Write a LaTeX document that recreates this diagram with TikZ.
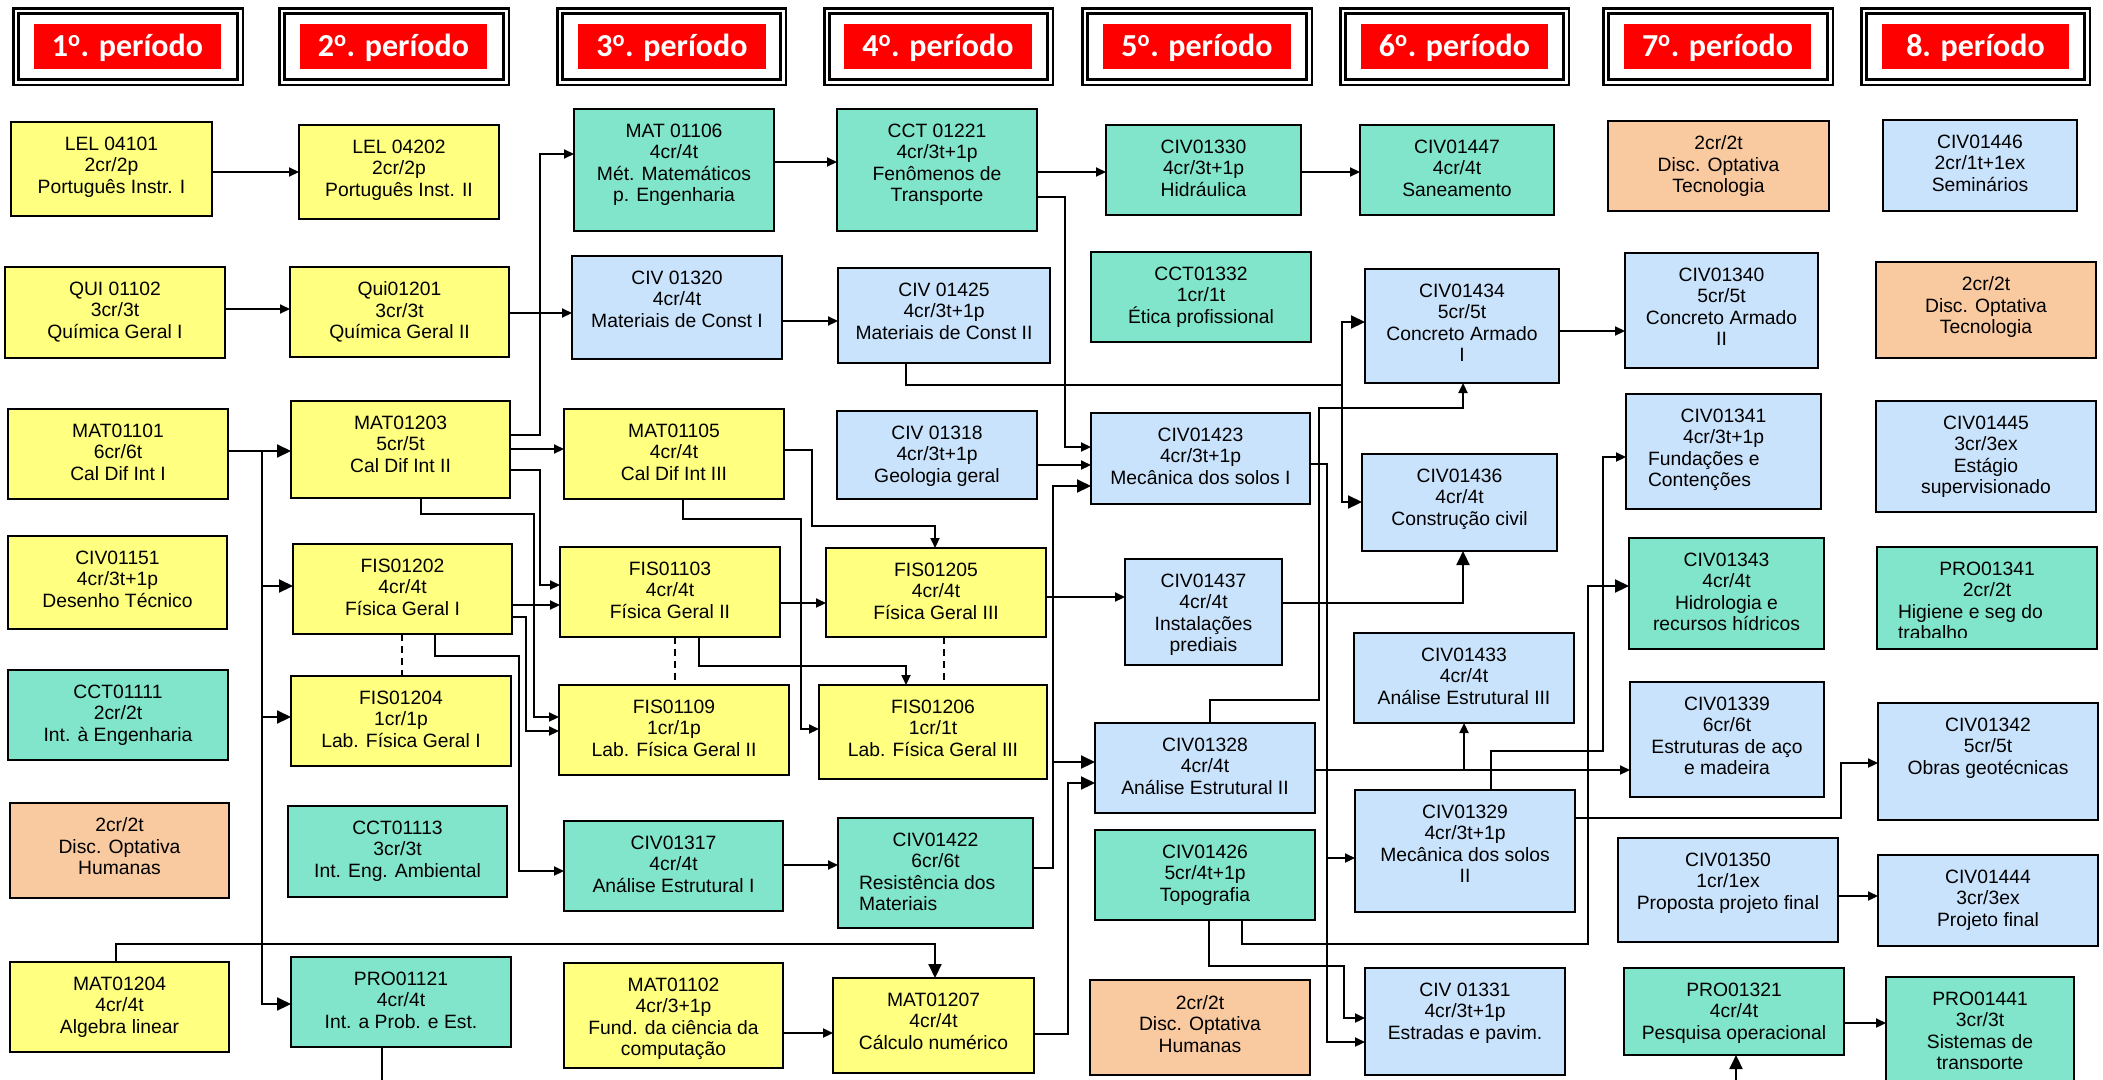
\documentclass[tikz,border=0pt]{standalone}
\usepackage{fontspec}
\setmainfont{Liberation Sans}
\newfontfamily\hdfont{Carlito}
\usetikzlibrary{arrows.meta}
\definecolor{cyel}{HTML}{FFFF80}
\definecolor{cteal}{HTML}{80E5CA}
\definecolor{cblue}{HTML}{CAE3FC}
\definecolor{corg}{HTML}{F9C9A0}
\definecolor{cred}{HTML}{FF0000}
\newcommand\lft[2]{\makebox[#1pt][l]{#2}}
\newcommand\crs[7]{%
  \node[#6, minimum width={#4-#2}, minimum height={#5-#3}] (#1) at ({(#2+#4)/2},{(#3+#5)/2}) {};
  \node[txt] (#1t) at ({(#2+#4)/2},{#3+15}) {#7};}
\newcommand\crsc[8]{%
  \node[#6, minimum width={#4-#2}, minimum height={#5-#3}] (#1) at ({(#2+#4)/2},{(#3+#5)/2}) {};
  \begin{scope}\clip (#2,#3) rectangle (#4,#8);
  \node[txt] (#1t) at ({(#2+#4)/2},{#3+15}) {#7};
  \end{scope}}
\newcommand\hdr[6]{%
  \node[hdframe, minimum width={#3-#2-7.5}, minimum height=71.5] (#1f) at ({(#2+#3)/2},46.5) {};
  \node[redbox, minimum width={#5-#4}, minimum height=45] (#1) at ({(#4+#5)/2},46.5) {};
  \node[hdtxt] (#1t) at ({(#4+#5)/2},56) {#6};}
\tikzset{
  crsbox/.style={draw=black, line width=1.8pt, rectangle, inner sep=0pt, outer sep=0pt},
  ysty/.style={crsbox, fill=cyel},
  tsty/.style={crsbox, fill=cteal},
  bsty/.style={crsbox, fill=cblue},
  osty/.style={crsbox, fill=corg},
  txt/.style={font=\fontsize{19.3}{21.5}\selectfont, align=center, inner sep=0pt, outer sep=0pt, anchor=north},
  conn/.style={line width=2.1pt, line join=miter},
  sarr/.style={conn, -{Triangle[length=10pt,width=9pt]}},
  barr/.style={conn, -{Triangle[length=14pt,width=13pt]}},
  dsh/.style={line width=2.1pt, dash pattern=on 7pt off 5pt},
  hdframe/.style={draw=black, line width=2.7pt, double=white, double distance=2.5pt, inner sep=0pt, rectangle},
  redbox/.style={fill=cred, inner sep=0pt, rectangle},
  hdtxt/.style={font=\hdfont\bfseries\fontsize{32}{36}\selectfont, text=white, anchor=base, inner sep=0pt},
}
\begin{document}
\begin{tikzpicture}[x=1pt,y=-1pt]
\useasboundingbox (0,0) rectangle (2103,1079);
\fill[white] (0,0) rectangle (2103,1079);
% headers
\hdr{h1}{12}{244}{34}{221}{1\textsuperscript{o}. período}
\hdr{h2}{278}{510}{300}{487}{2\textsuperscript{o}. período}
\hdr{h3}{556}{787}{578}{766}{3\textsuperscript{o}. período}
\hdr{h4}{823}{1054}{844}{1032}{4\textsuperscript{o}. período}
\hdr{h5}{1081}{1313}{1103}{1291}{5\textsuperscript{o}. período}
\hdr{h6}{1339}{1570}{1361}{1548}{6\textsuperscript{o}. período}
\hdr{h7}{1602}{1834}{1624}{1811}{7\textsuperscript{o}. período}
\hdr{h8}{1860}{2091}{1882}{2069}{8. período}
% column 1
\crs{lel1}{11}{122}{212}{216}{ysty}{LEL 04101\\2cr/2p\\Português Instr. I}
\crs{qui1}{5}{267}{225}{358}{ysty}{QUI 01102\\3cr/3t\\Química Geral I}
\crs{mat1101}{8}{409}{228}{499}{ysty}{MAT01101\\6cr/6t\\Cal Dif Int I}
\crs{civ1151}{8}{536}{227}{629}{ysty}{CIV01151\\4cr/3t+1p\\Desenho Técnico}
\crs{cct1111}{8}{670}{228}{760}{tsty}{CCT01111\\2cr/2t\\Int. à Engenharia}
\crs{opth1}{10}{803}{229}{898}{osty}{2cr/2t\\Disc. Optativa\\Humanas}
\crs{mat1204}{10}{962}{229}{1052}{ysty}{MAT01204\\4cr/4t\\Algebra linear}
% column 2
\crs{lel2}{299}{125}{499}{219}{ysty}{LEL 04202\\2cr/2p\\Português Inst. II}
\crs{qui2}{290}{267}{509}{357}{ysty}{Qui01201\\3cr/3t\\Química Geral II}
\crs{mat1203}{291}{401}{510}{498}{ysty}{MAT01203\\5cr/5t\\Cal Dif Int II}
\crs{fis1202}{293}{544}{512}{634}{ysty}{FIS01202\\4cr/4t\\Física Geral I}
\crs{fis1204}{291}{676}{511}{766}{ysty}{FIS01204\\1cr/1p\\Lab. Física Geral I}
\crs{cct1113}{288}{806}{507}{897}{tsty}{CCT01113\\3cr/3t\\Int. Eng. Ambiental}
\crs{pro1121}{291}{957}{511}{1047}{tsty}{PRO01121\\4cr/4t\\Int. a Prob. e Est.}
% column 3
\crs{mat1106}{574}{109}{774}{231}{tsty}{MAT 01106\\4cr/4t\\Mét. Matemáticos\\p. Engenharia}
\crs{civ1320}{572}{256}{782}{359}{bsty}{CIV 01320\\4cr/4t\\Materiais de Const I}
\crs{mat1105}{564}{409}{784}{499}{ysty}{MAT01105\\4cr/4t\\Cal Dif Int III}
\crs{fis1103}{560}{547}{780}{637}{ysty}{FIS01103\\4cr/4t\\Física Geral II}
\crs{fis1109}{559}{685}{789}{775}{ysty}{FIS01109\\1cr/1p\\Lab. Física Geral II}
\crs{civ1317}{564}{821}{783}{911}{tsty}{CIV01317\\4cr/4t\\Análise Estrutural I}
\crs{mat1102}{564}{963}{783}{1068}{ysty}{MAT01102\\4cr/3+1p\\Fund. da ciência da\\computação}
% column 4
\crs{cct1221}{837}{109}{1037}{231}{tsty}{CCT 01221\\4cr/3t+1p\\Fenômenos de\\Transporte}
\crs{civ1425}{838}{268}{1050}{363}{bsty}{CIV 01425\\4cr/3t+1p\\Materiais de Const II}
\crs{civ1318}{837}{411}{1037}{499}{bsty}{CIV 01318\\4cr/3t+1p\\Geologia geral}
\crs{fis1205}{826}{548}{1046}{637}{ysty}{FIS01205\\4cr/4t\\Física Geral III}
\crs{fis1206}{819}{685}{1047}{779}{ysty}{FIS01206\\1cr/1t\\Lab. Física Geral III}
\crs{civ1422}{838}{818}{1033}{928}{tsty}{CIV01422\\6cr/6t\\\lft{153}{Resistência dos}\\\lft{153}{Materiais}}
\crs{mat1207}{833}{978}{1034}{1073}{ysty}{MAT01207\\4cr/4t\\Cálculo numérico}
% column 5
\crs{civ1330}{1106}{125}{1301}{215}{tsty}{CIV01330\\4cr/3t+1p\\Hidráulica}
\crs{cct1332}{1091}{252}{1311}{342}{tsty}{CCT01332\\1cr/1t\\Ética profissional}
\crs{civ1423}{1091}{413}{1310}{504}{bsty}{CIV01423\\4cr/3t+1p\\Mecânica dos solos I}
\crs{civ1437}{1125}{559}{1282}{665}{bsty}{CIV01437\\4cr/4t\\Instalações\\prediais}
\crs{civ1328}{1095}{723}{1315}{813}{bsty}{CIV01328\\4cr/4t\\Análise Estrutural II}
\crs{civ1426}{1095}{830}{1315}{920}{tsty}{CIV01426\\5cr/4t+1p\\Topografia}
\crs{opth5}{1090}{980}{1310}{1075}{osty}{2cr/2t\\Disc. Optativa\\Humanas}
% column 6
\crs{civ1447}{1360}{125}{1554}{215}{tsty}{CIV01447\\4cr/4t\\Saneamento}
\crs{civ1434}{1365}{269}{1559}{383}{bsty}{CIV01434\\5cr/5t\\Concreto Armado\\I}
\crs{civ1436}{1362}{454}{1557}{551}{bsty}{CIV01436\\4cr/4t\\Construção civil}
\crs{civ1433}{1354}{633}{1574}{723}{bsty}{CIV01433\\4cr/4t\\Análise Estrutural III}
\crs{civ1329}{1355}{790}{1575}{912}{bsty}{CIV01329\\4cr/3t+1p\\Mecânica dos solos\\II}
\crs{civ1331}{1365}{968}{1565}{1075}{bsty}{CIV 01331\\4cr/3t+1p\\Estradas e pavim.}
% column 7
\crs{optt7}{1608}{121}{1829}{211}{osty}{2cr/2t\\Disc. Optativa\\Tecnologia}
\crs{civ1340}{1625}{253}{1818}{368}{bsty}{CIV01340\\5cr/5t\\Concreto Armado\\II}
\crs{civ1341}{1626}{394}{1821}{509}{bsty}{CIV01341\\4cr/3t+1p\\\lft{151}{Fundações e}\\\lft{151}{Contenções}}
\crs{civ1343}{1629}{538}{1824}{649}{tsty}{CIV01343\\4cr/4t\\Hidrologia e\\recursos hídricos}
\crs{civ1339}{1630}{682}{1824}{797}{bsty}{CIV01339\\6cr/6t\\Estruturas de aço\\e madeira}
\crs{civ1350}{1618}{838}{1838}{942}{bsty}{CIV01350\\1cr/1ex\\Proposta projeto final}
\crs{pro1321}{1624}{968}{1844}{1055}{tsty}{PRO01321\\4cr/4t\\Pesquisa operacional}
% column 8
\crs{civ1446}{1883}{120}{2077}{211}{bsty}{CIV01446\\2cr/1t+1ex\\Seminários}
\crs{optt8}{1876}{262}{2096}{358}{osty}{2cr/2t\\Disc. Optativa\\Tecnologia}
\crs{civ1445}{1876}{401}{2096}{512}{bsty}{CIV01445\\3cr/3ex\\Estágio\\supervisionado}
\crsc{pro1341}{1877}{547}{2097}{649}{tsty}{PRO01341\\2cr/2t\\\lft{178}{Higiene e seg do}\\\lft{178}{trabalho}}{637}
\crs{civ1342}{1878}{703}{2098}{820}{bsty}{CIV01342\\5cr/5t\\Obras geotécnicas}
\crs{civ1444}{1878}{855}{2098}{946}{bsty}{CIV01444\\3cr/3ex\\Projeto final}
\crsc{pro1441}{1886}{977}{2074}{1095}{tsty}{PRO01441\\3cr/3t\\Sistemas de\\transporte}{1068}
% connectors
\draw[sarr] (lel1.east |- 0,172) -- (lel2.west |- 0,172);
\draw[sarr] (qui1.east |- 0,309) -- (qui2.west |- 0,309);
\draw[sarr] (qui2.east |- 0,313) -- (civ1320.west |- 0,313);
\draw[sarr] (mat1203.east |- 0,435) -- (540,435) -- (540,154) -- (mat1106.west |- 0,154);
\draw[sarr] (mat1203.east |- 0,449) -- (mat1105.west |- 0,449);
\draw[sarr] (mat1203.east |- 0,470) -- (540,470) -- (540,585) -- (fis1103.west |- 0,585);
\draw[sarr] (mat1203.south -| 421,0) -- (421,514) -- (534,514) -- (534,717) -- (fis1109.west |- 0,717);
\draw[barr] (mat1101.east |- 0,451) -- (mat1203.west |- 0,451);
\draw[barr] (mat1101.east |- 0,451) -- (262,451) -- (262,586) -- (fis1202.west |- 0,586);
\draw[barr] (mat1101.east |- 0,451) -- (262,451) -- (262,717) -- (fis1204.west |- 0,717);
\draw[barr] (mat1101.east |- 0,451) -- (262,451) -- (262,1004) -- (pro1121.west |- 0,1004);
\draw[sarr] (fis1202.east |- 0,605) -- (fis1103.west |- 0,605);
\draw[sarr] (fis1202.east |- 0,617) -- (526,617) -- (526,731) -- (fis1109.west |- 0,731);
\draw[sarr] (fis1202.south -| 435,0) -- (435,656) -- (519,656) -- (519,871) -- (civ1317.west |- 0,871);
\draw[dsh] (fis1202.south -| 402,0) -- (fis1204.north -| 402,0);
\draw[sarr] (mat1106.east |- 0,162) -- (cct1221.west |- 0,162);
\draw[sarr] (civ1320.east |- 0,321) -- (civ1425.west |- 0,321);
\draw[sarr] (mat1105.east |- 0,450) -- (812,450) -- (812,526) -- (935,526) -- (fis1205.north -| 935,0);
\draw[sarr] (mat1105.south -| 683,0) -- (683,519) -- (801,519) -- (801,729) -- (fis1206.west |- 0,729);
\draw[sarr] (fis1103.east |- 0,603) -- (fis1205.west |- 0,603);
\draw[dsh] (fis1103.south -| 675,0) -- (fis1109.north -| 675,0);
\draw[sarr] (fis1103.south -| 699,0) -- (699,666) -- (906,666) -- (fis1206.north -| 906,0);
\draw[dsh] (fis1205.south -| 944,0) -- (fis1206.north -| 944,0);
\draw[sarr] (civ1317.east |- 0,865) -- (civ1422.west |- 0,865);
\draw[sarr] (mat1102.east |- 0,1033) -- (mat1207.west |- 0,1033);
\draw[barr] (mat1204.north -| 116,0) -- (116,944) -- (935,944) -- (mat1207.north -| 935,0);
\draw[sarr] (cct1221.east |- 0,172) -- (civ1330.west |- 0,172);
\draw[sarr] (civ1330.east |- 0,172) -- (civ1447.west |- 0,172);
\draw[sarr] (cct1221.east |- 0,197) -- (1065,197) -- (1065,447) -- (civ1423.west |- 0,447);
\draw[sarr] (civ1318.east |- 0,465) -- (civ1423.west |- 0,465);
\draw[barr] (civ1422.east |- 0,868) -- (1053,868) -- (1053,486) -- (civ1423.west |- 0,486);
\draw[barr] (civ1422.east |- 0,868) -- (1053,868) -- (1053,762) -- (civ1328.west |- 0,762);
\draw[barr] (mat1207.east |- 0,1034) -- (1068,1034) -- (1068,783) -- (civ1328.west |- 0,783);
\draw[sarr] (fis1205.east |- 0,597) -- (civ1437.west |- 0,597);
\draw[barr] (civ1425.south -| 906,0) -- (906,385) -- (1342,385) -- (1342,322) -- (civ1434.west |- 0,322);
\draw[barr] (civ1425.south -| 906,0) -- (906,385) -- (1342,385) -- (1342,502) -- (civ1436.west |- 0,502);
\draw[sarr] (civ1434.east |- 0,331) -- (civ1340.west |- 0,331);
\draw[sarr] (civ1328.north -| 1210,0) -- (1210,700) -- (1319,700) -- (1319,408) -- (1463,408) -- (civ1434.south -| 1463,0);
\draw[barr] (civ1437.east |- 0,603) -- (1463,603) -- (civ1436.south -| 1463,0);
\draw[sarr] (civ1423.east |- 0,464) -- (1327,464) -- (1327,858) -- (civ1329.west |- 0,858);
\draw[sarr] (civ1423.east |- 0,464) -- (1327,464) -- (1327,1042) -- (civ1331.west |- 0,1042);
\draw[sarr] (civ1426.south -| 1209,0) -- (1209,966) -- (1344,966) -- (1344,1018) -- (civ1331.west |- 0,1018);
\draw[barr] (civ1426.south -| 1242,0) -- (1242,944) -- (1588,944) -- (1588,586) -- (civ1343.west |- 0,586);
\draw[sarr] (civ1328.east |- 0,770) -- (civ1339.west |- 0,770);
\draw[sarr] (civ1328.east |- 0,770) -- (1464,770) -- (civ1433.south -| 1464,0);
\draw[sarr] (civ1329.north -| 1491,0) -- (1491,751) -- (1603,751) -- (1603,457) -- (civ1341.west |- 0,457);
\draw[sarr] (civ1329.east |- 0,818) -- (1841,818) -- (1841,763) -- (civ1342.west |- 0,763);
\draw[sarr] (civ1350.east |- 0,896) -- (civ1444.west |- 0,896);
\draw[sarr] (pro1321.east |- 0,1023) -- (pro1441.west |- 0,1023);
\draw[barr] (pro1121.south -| 382,0) -- (382,1100) -- (1736,1100) -- (pro1321.south -| 1736,0);
\end{tikzpicture}
\end{document}
